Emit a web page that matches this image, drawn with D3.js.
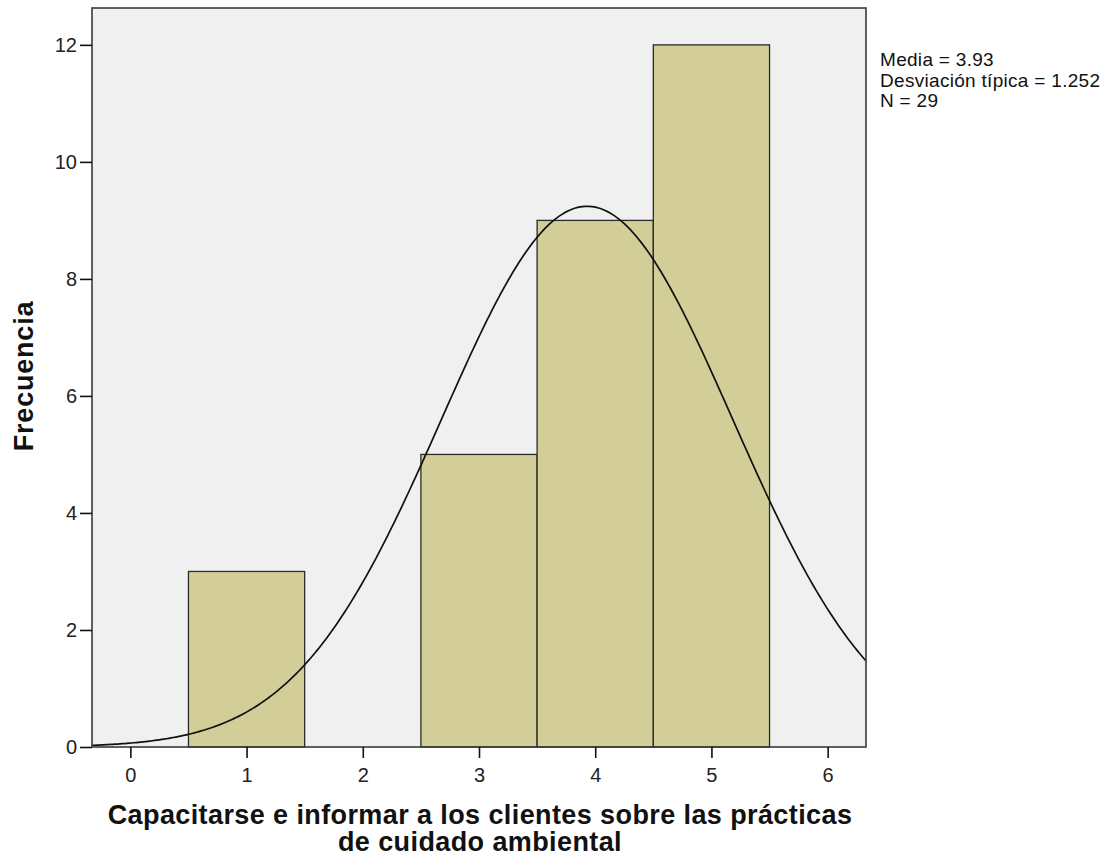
<!DOCTYPE html>
<html>
<head>
<meta charset="utf-8">
<script src="https://cdn.jsdelivr.net/npm/d3@7"></script>
<style>
  body { margin: 0; background: #fff; }
  text { font-family: "Liberation Sans", Arial, sans-serif; }
</style>
</head>
<body>
<script>
// histogram bins (lower edge, upper edge, count)
var binStart = [0.5, 2.5, 3.5, 4.5];
var binEnd   = [1.5, 3.5, 4.5, 5.5];
var counts   = [3, 5, 9, 12];
var xTicks = [0, 1, 2, 3, 4, 5, 6];
var yTicks = [0, 2, 4, 6, 8, 10, 12];
var media = 3.93, sd = 1.252, n = 29;
var statsLines = ['Media = 3.93', 'Desviación típica = 1.252', 'N = 29'];

var svg = d3.select('body').append('svg')
  .attr('width', 1110)
  .attr('height', 859);

// plot frame edges (px)
var pLeft = 92, pRight = 866, pTop = 8, pBottom = 747;

var x = d3.scaleLinear().domain([-0.33, 6.33]).range([pLeft, pRight]);
var y = d3.scaleLinear().domain([0, 12.63]).range([pBottom, pTop]);

// plot background
svg.append('rect')
  .attr('x', pLeft).attr('y', pTop)
  .attr('width', pRight - pLeft).attr('height', pBottom - pTop)
  .attr('fill', '#f0f0f0');

// bars
svg.selectAll('rect.bar')
  .data(counts)
  .enter()
    .append('rect')
    .attr('class', 'bar')
    .attr('x', (d, i) => x(binStart[i]))
    .attr('width', (d, i) => x(binEnd[i]) - x(binStart[i]))
    .attr('y', d => y(d))
    .attr('height', d => y(0) - y(d))
    .attr('fill', '#d3ce98')
    .attr('stroke', '#2b2b2b')
    .attr('stroke-width', 1.3);

// normal curve scaled to counts (bin width 1)
var curvePts = d3.range(x.domain()[0], x.domain()[1] + 0.001, 0.02).map(v => {
  var dens = n / (sd * Math.sqrt(2 * Math.PI)) * Math.exp(-0.5 * Math.pow((v - media) / sd, 2));
  return [v, dens];
});
svg.append('path')
  .datum(curvePts)
  .attr('fill', 'none')
  .attr('stroke', '#111')
  .attr('stroke-width', 1.7)
  .attr('d', d3.line().x(d => x(d[0])).y(d => y(d[1])));

// frame
svg.append('rect')
  .attr('x', pLeft).attr('y', pTop)
  .attr('width', pRight - pLeft).attr('height', pBottom - pTop)
  .attr('fill', 'none')
  .attr('stroke', '#3a3a3a')
  .attr('stroke-width', 1.6);

// axes
var yAxis = svg.append('g')
  .attr('transform', 'translate(' + pLeft + ',0)')
  .call(d3.axisLeft(y).tickValues(yTicks).tickFormat(d3.format('d')).tickSize(12).tickPadding(3));
var xAxis = svg.append('g')
  .attr('transform', 'translate(0,' + pBottom + ')')
  .call(d3.axisBottom(x).tickValues(xTicks).tickFormat(d3.format('d')).tickSize(11).tickPadding(10));

[yAxis, xAxis].forEach(g => {
  g.select('.domain').remove();
  g.selectAll('line').attr('stroke', '#111').attr('stroke-width', 1.6);
  g.selectAll('text')
    .attr('fill', '#222')
    .style('font-size', '20px')
    .style('font-family', '"Liberation Sans", Arial, sans-serif');
});

// axis titles
svg.append('text')
  .attr('transform', 'translate(33,376) rotate(-90)')
  .attr('text-anchor', 'middle')
  .style('font-size', '27px')
  .style('font-weight', 'bold')
  .style('letter-spacing', '0.8px')
  .attr('fill', '#111')
  .text('Frecuencia');

var xt = svg.append('text')
  .attr('text-anchor', 'middle')
  .style('font-size', '27px')
  .style('font-weight', 'bold')
  .style('letter-spacing', '0.4px')
  .attr('fill', '#111');
xt.append('tspan').attr('x', 480).attr('y', 824)
  .text('Capacitarse e informar a los clientes sobre las prácticas');
xt.append('tspan').attr('x', 480).attr('y', 851)
  .text('de cuidado ambiental');

// stats box
svg.selectAll('text.stat')
  .data(statsLines)
  .enter()
    .append('text')
    .attr('class', 'stat')
    .attr('x', 880)
    .attr('y', (d, i) => 66 + i * 20.5)
    .style('font-size', '19px')
    .style('letter-spacing', '0.3px')
    .attr('fill', '#111')
    .text(d => d);
</script>
</body>
</html>
